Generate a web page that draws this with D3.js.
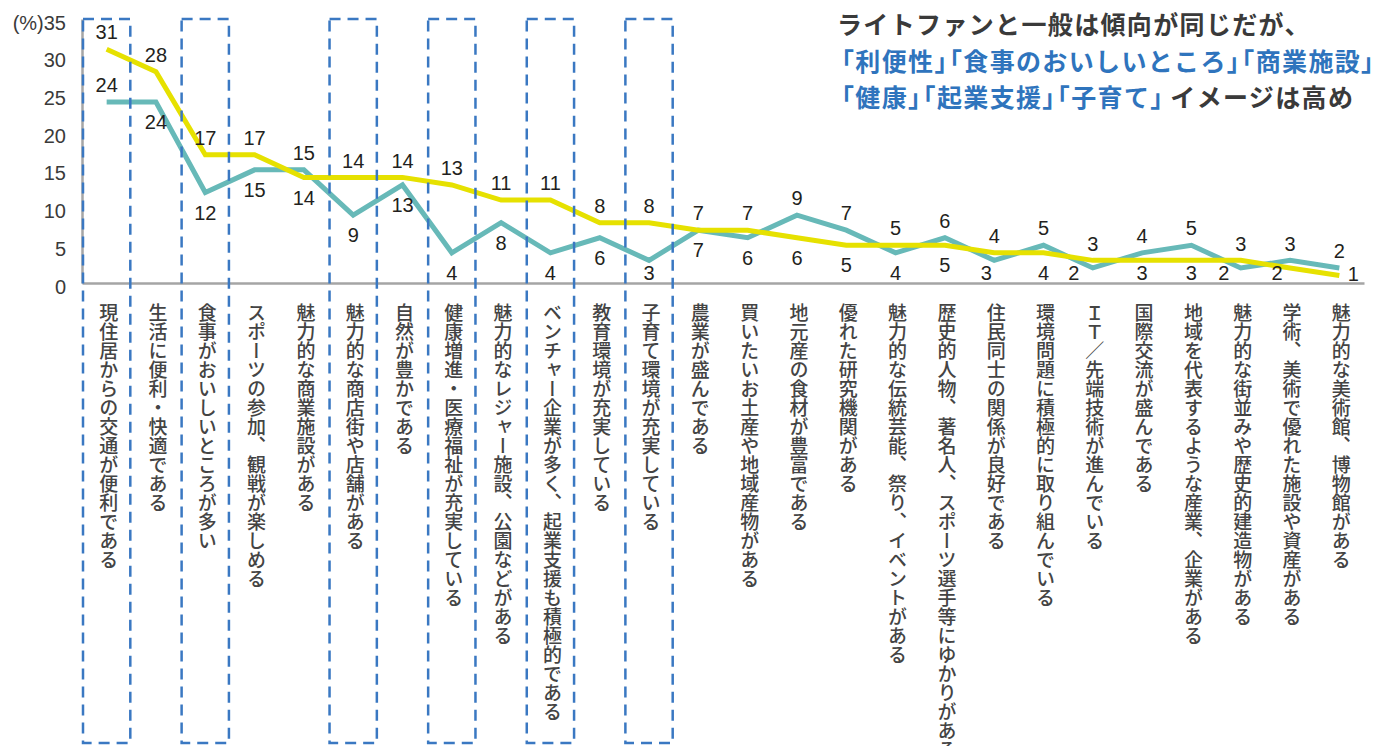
<!DOCTYPE html>
<html lang="ja">
<head>
<meta charset="utf-8">
<script src="https://cdn.jsdelivr.net/npm/d3@7"></script>
<style>
  html, body { margin: 0; padding: 0; background: #fff; }
  svg { display: block; }
</style>
</head>
<body>
<svg id="chart" width="1391" height="746"></svg>
<script>
// Items asked about the city's image (%), two respondent groups
const categories = [
  "現住居からの交通が便利である",
  "生活に便利・快適である",
  "食事がおいしいところが多い",
  "スポーツの参加、観戦が楽しめる",
  "魅力的な商業施設がある",
  "魅力的な商店街や店舗がある",
  "自然が豊かである",
  "健康増進・医療福祉が充実している",
  "魅力的なレジャー施設、公園などがある",
  "ベンチャー企業が多く、起業支援も積極的である",
  "教育環境が充実している",
  "子育て環境が充実している",
  "農業が盛んである",
  "買いたいお土産や地域産物がある",
  "地元産の食材が豊富である",
  "優れた研究機関がある",
  "魅力的な伝統芸能、祭り、イベントがある",
  "歴史的人物、著名人、スポーツ選手等にゆかりがある",
  "住民同士の関係が良好である",
  "環境問題に積極的に取り組んでいる",
  "ＩＴ／先端技術が進んでいる",
  "国際交流が盛んである",
  "地域を代表するような産業、企業がある",
  "魅力的な街並みや歴史的建造物がある",
  "学術、美術で優れた施設や資産がある",
  "魅力的な美術館、博物館がある"
];
// ライトファン
const lightFan = [31, 28, 17, 17, 14, 14, 14, 13, 11, 11, 8, 8, 7, 7, 6, 5, 5, 5, 4, 4, 3, 3, 3, 3, 2, 1];
// 一般
const general  = [24, 24, 12, 15, 15, 9, 13, 4, 8, 4, 6, 3, 7, 6, 9, 7, 4, 6, 3, 5, 2, 4, 5, 2, 3, 2];
// items framed with a dashed box
const highlighted = [
  "現住居からの交通が便利である",
  "食事がおいしいところが多い",
  "魅力的な商店街や店舗がある",
  "健康増進・医療福祉が充実している",
  "ベンチャー企業が多く、起業支援も積極的である",
  "子育て環境が充実している"
];
const yTicks = [0, 5, 10, 15, 20, 25, 30, 35];

const svg = d3.select("#chart");
const plotLeft = 82, plotRight = 1364, plotTop = 19, plotBottom = 283, boxBottom = 743;

const x = d3.scaleBand().domain(categories).range([plotLeft, plotRight]).padding(0);
const y = d3.scaleLinear().domain([0, 35]).range([plotBottom, plotTop]);
const cx = c => x(c) + x.bandwidth() / 2;

const numFont = "'Liberation Sans', Arial, sans-serif";
const jpFont = "'Noto Sans CJK JP', 'Noto Sans', sans-serif";

// y axis
const yAxis = svg.append("g")
  .attr("transform", `translate(${plotLeft},0)`)
  .call(d3.axisLeft(y).tickValues(yTicks).tickSize(0).tickPadding(16)
    .tickFormat(d => d === 35 ? "(%)35" : d));
yAxis.select(".domain").attr("stroke", "#a5a5a5").attr("stroke-width", 2.5);
yAxis.selectAll("text")
  .attr("dy", "0.5em")
  .attr("fill", "#3a3a3a")
  .style("font-family", numFont)
  .style("font-size", "20px");

// x axis with vertical category labels
const xAxis = svg.append("g")
  .attr("transform", `translate(0,${plotBottom})`)
  .call(d3.axisBottom(x).tickSize(0).tickSizeOuter(0));
xAxis.select(".domain").attr("stroke", "#a5a5a5").attr("stroke-width", 2.5);
xAxis.selectAll("text")
  .attr("x", 2)
  .attr("y", 20)
  .attr("dy", null)
  .attr("text-anchor", "start")
  .attr("fill", "#444")
  .style("writing-mode", "vertical-rl")
  .style("font-family", jpFont)
  .style("font-weight", 500)
  .style("font-size", "19px");

// series lines
const line = d3.line().x((d, i) => cx(categories[i])).y(d => y(d));
const series = [
  { name: "一般", values: general, color: "#67b9b8" },
  { name: "ライトファン", values: lightFan, color: "#e6e100" }
];
svg.append("g").selectAll("path")
  .data(series)
  .join("path")
  .attr("d", s => line(s.values))
  .attr("fill", "none")
  .attr("stroke", s => s.color)
  .attr("stroke-width", 5)
  .attr("stroke-linejoin", "miter")
  .attr("stroke-linecap", "butt");

// dashed frames around the highlighted items
svg.append("g").selectAll("rect")
  .data(highlighted)
  .join("rect")
  .attr("x", c => x(c) + 1)
  .attr("y", plotTop)
  .attr("width", x.bandwidth() - 2)
  .attr("height", boxBottom - plotTop)
  .attr("fill", "none")
  .attr("stroke", "#3a78c2")
  .attr("stroke-width", 2.5)
  .attr("stroke-dasharray", "11 7");

// value labels: the larger value of each pair above the line, the smaller below
const labelNudge = {
  "一般": { 18: [-8, 0], 20: [-19, 0], 23: [-17, 0] },
  "ライトファン": { 24: [-13, 0], 25: [14, -2] }
};
const labels = [];
categories.forEach((c, i) => {
  const a = lightFan[i], b = general[i];
  const fanAbove = a >= b;
  labels.push({ s: "ライトファン", i, v: a, above: fanAbove });
  labels.push({ s: "一般", i, v: b, above: i === 0 ? true : !fanAbove });
});
svg.append("g").selectAll("text")
  .data(labels)
  .join("text")
  .attr("x", d => cx(categories[d.i]) + ((labelNudge[d.s][d.i] || [0, 0])[0]))
  .attr("y", d => {
    const n = labelNudge[d.s][d.i];
    const base = d.above ? y(d.v) - 17 : Math.min(y(d.v) + 20, 273);
    return n && n[1] ? y(d.v) + n[1] : base;
  })
  .attr("dy", "0.36em")
  .attr("text-anchor", "middle")
  .attr("fill", "#231f20")
  .style("font-family", numFont)
  .style("font-size", "20px")
  .text(d => d.v);

// headline; corner brackets are set tighter than the other characters
const headline = [
  [["ライトファンと一般は傾向が同じだが、", "#3a3a3a"]],
  [["「利便性」「食事のおいしいところ」「商業施設」", "#2f74bd"]],
  [["「健康」「起業支援」「子育て」", "#2f74bd"], ["イメージは高め", "#3a3a3a"]]
];
const head = svg.append("g")
  .style("font-family", jpFont)
  .style("font-weight", 700)
  .style("font-size", "25px");
headline.forEach((parts, li) => {
  const t = head.append("text")
    .attr("x", 837)
    .attr("y", 25 + li * 36.5)
    .attr("dy", "0.36em");
  let first = true;
  parts.forEach(([txt, col]) => {
    txt.split(/([「」])/).filter(s => s.length).forEach(run => {
      const ts = t.append("tspan").attr("fill", col).text(run);
      if (run === "「") {
        ts.attr("dx", first ? -8 : -5).style("letter-spacing", "1.35px");
      } else if (run === "」") {
        ts.style("letter-spacing", "-5px");
      } else {
        ts.style("letter-spacing", "1.35px");
      }
      first = false;
    });
  });
});
</script>
</body>
</html>
